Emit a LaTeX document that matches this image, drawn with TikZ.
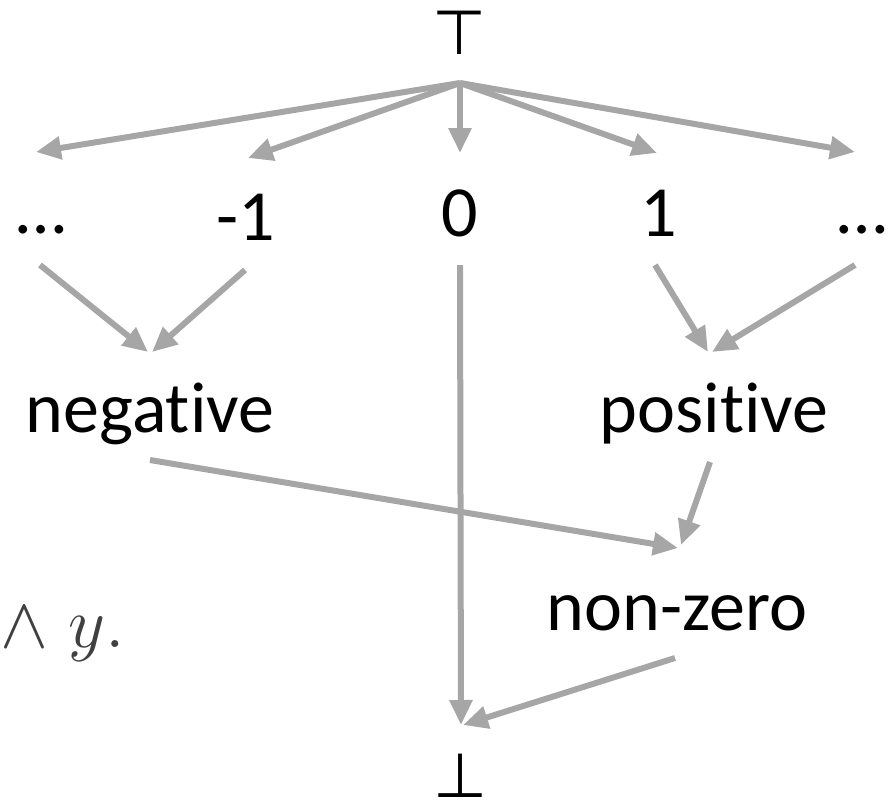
\documentclass[tikz,border=0pt]{standalone}
\usepackage{fix-cm}
\usepackage{fontspec}
\setmainfont{Carlito}[Ligatures=NoCommon]
\newfontfamily\symfont{DejaVu Sans}
\usetikzlibrary{arrows.meta,positioning,calc}
\definecolor{arrowgray}{RGB}{166,166,166}
\definecolor{mathgray}{RGB}{64,64,64}

\begin{document}
\begin{tikzpicture}[x=0.5pt, y=-0.5pt,
    lbl/.style={inner sep=0pt, anchor=base, font=\fontsize{36}{43}\selectfont},
    sym/.style={inner sep=0pt, font=\symfont\fontsize{31}{37}\selectfont},
    flow/.style={-{Triangle[length=12.5pt,width=11pt]}, line width=3pt, arrowgray}
]
    \useasboundingbox (0,0) rectangle (891,810);

    \node[sym] (top) at (460,33) {⊤};
    \coordinate (fan) at ($(top)+(0,50)$);
    \node[lbl] (dotsL) at (41,233) {…};
    \node[lbl] (neg1) at (246,240) {-1};
    \node[lbl] (zero) at (460,236) {0};
    \node[lbl] (one) at (659,236) {1};
    \node[lbl] (dotsR) at (862,233) {…};
    \node[lbl] (neg) at (150,432) {negative};
    \node[lbl] (pos) at (714,432) {positive};
    \node[lbl] (nonzero) at (677,630) {non-zero};
    \node[sym] (bot) at (461,776) {⊥};
    \node[lbl, anchor=base west, text=mathgray] (conj) at (0,647) {$\wedge\;y.$};

    % from top
    \draw[flow] (fan) -- ($(dotsL.base)+(-5,-81)$);
    \draw[flow] (fan) -- ($(neg1.base)+(2,-82)$);
    \draw[flow] (fan) -- ($(zero.base)+(0,-83)$);
    \draw[flow] (fan) -- ($(one.base)+(-2,-83)$);
    \draw[flow] (fan) -- ($(dotsR.base)+(-7,-81)$);

    % into negative and positive
    \draw[flow] ($(dotsL.base)+(-1,32)$) -- ($(neg.base)+(-2,-80)$);
    \draw[flow] ($(neg1.base)+(-1,30)$) -- ($(neg.base)+(2,-80)$);
    \draw[flow] ($(one.base)+(-4,29)$) -- ($(pos.base)+(-6,-80)$);
    \draw[flow] ($(dotsR.base)+(-7,32)$) -- ($(pos.base)+(-2,-80)$);

    % into non-zero and bottom
    \draw[flow] ($(neg.base)+(0,28)$) -- ($(nonzero.base)+(1,-82)$);
    \draw[flow] ($(pos.base)+(-4,30)$) -- ($(nonzero.base)+(4,-85)$);
    \draw[flow] ($(zero.base)+(0,29)$) -- ($(bot)+(0,-51)$);
    \draw[flow] ($(nonzero.base)+(-2,28)$) -- ($(bot)+(2,-51)$);
\end{tikzpicture}
\end{document}
